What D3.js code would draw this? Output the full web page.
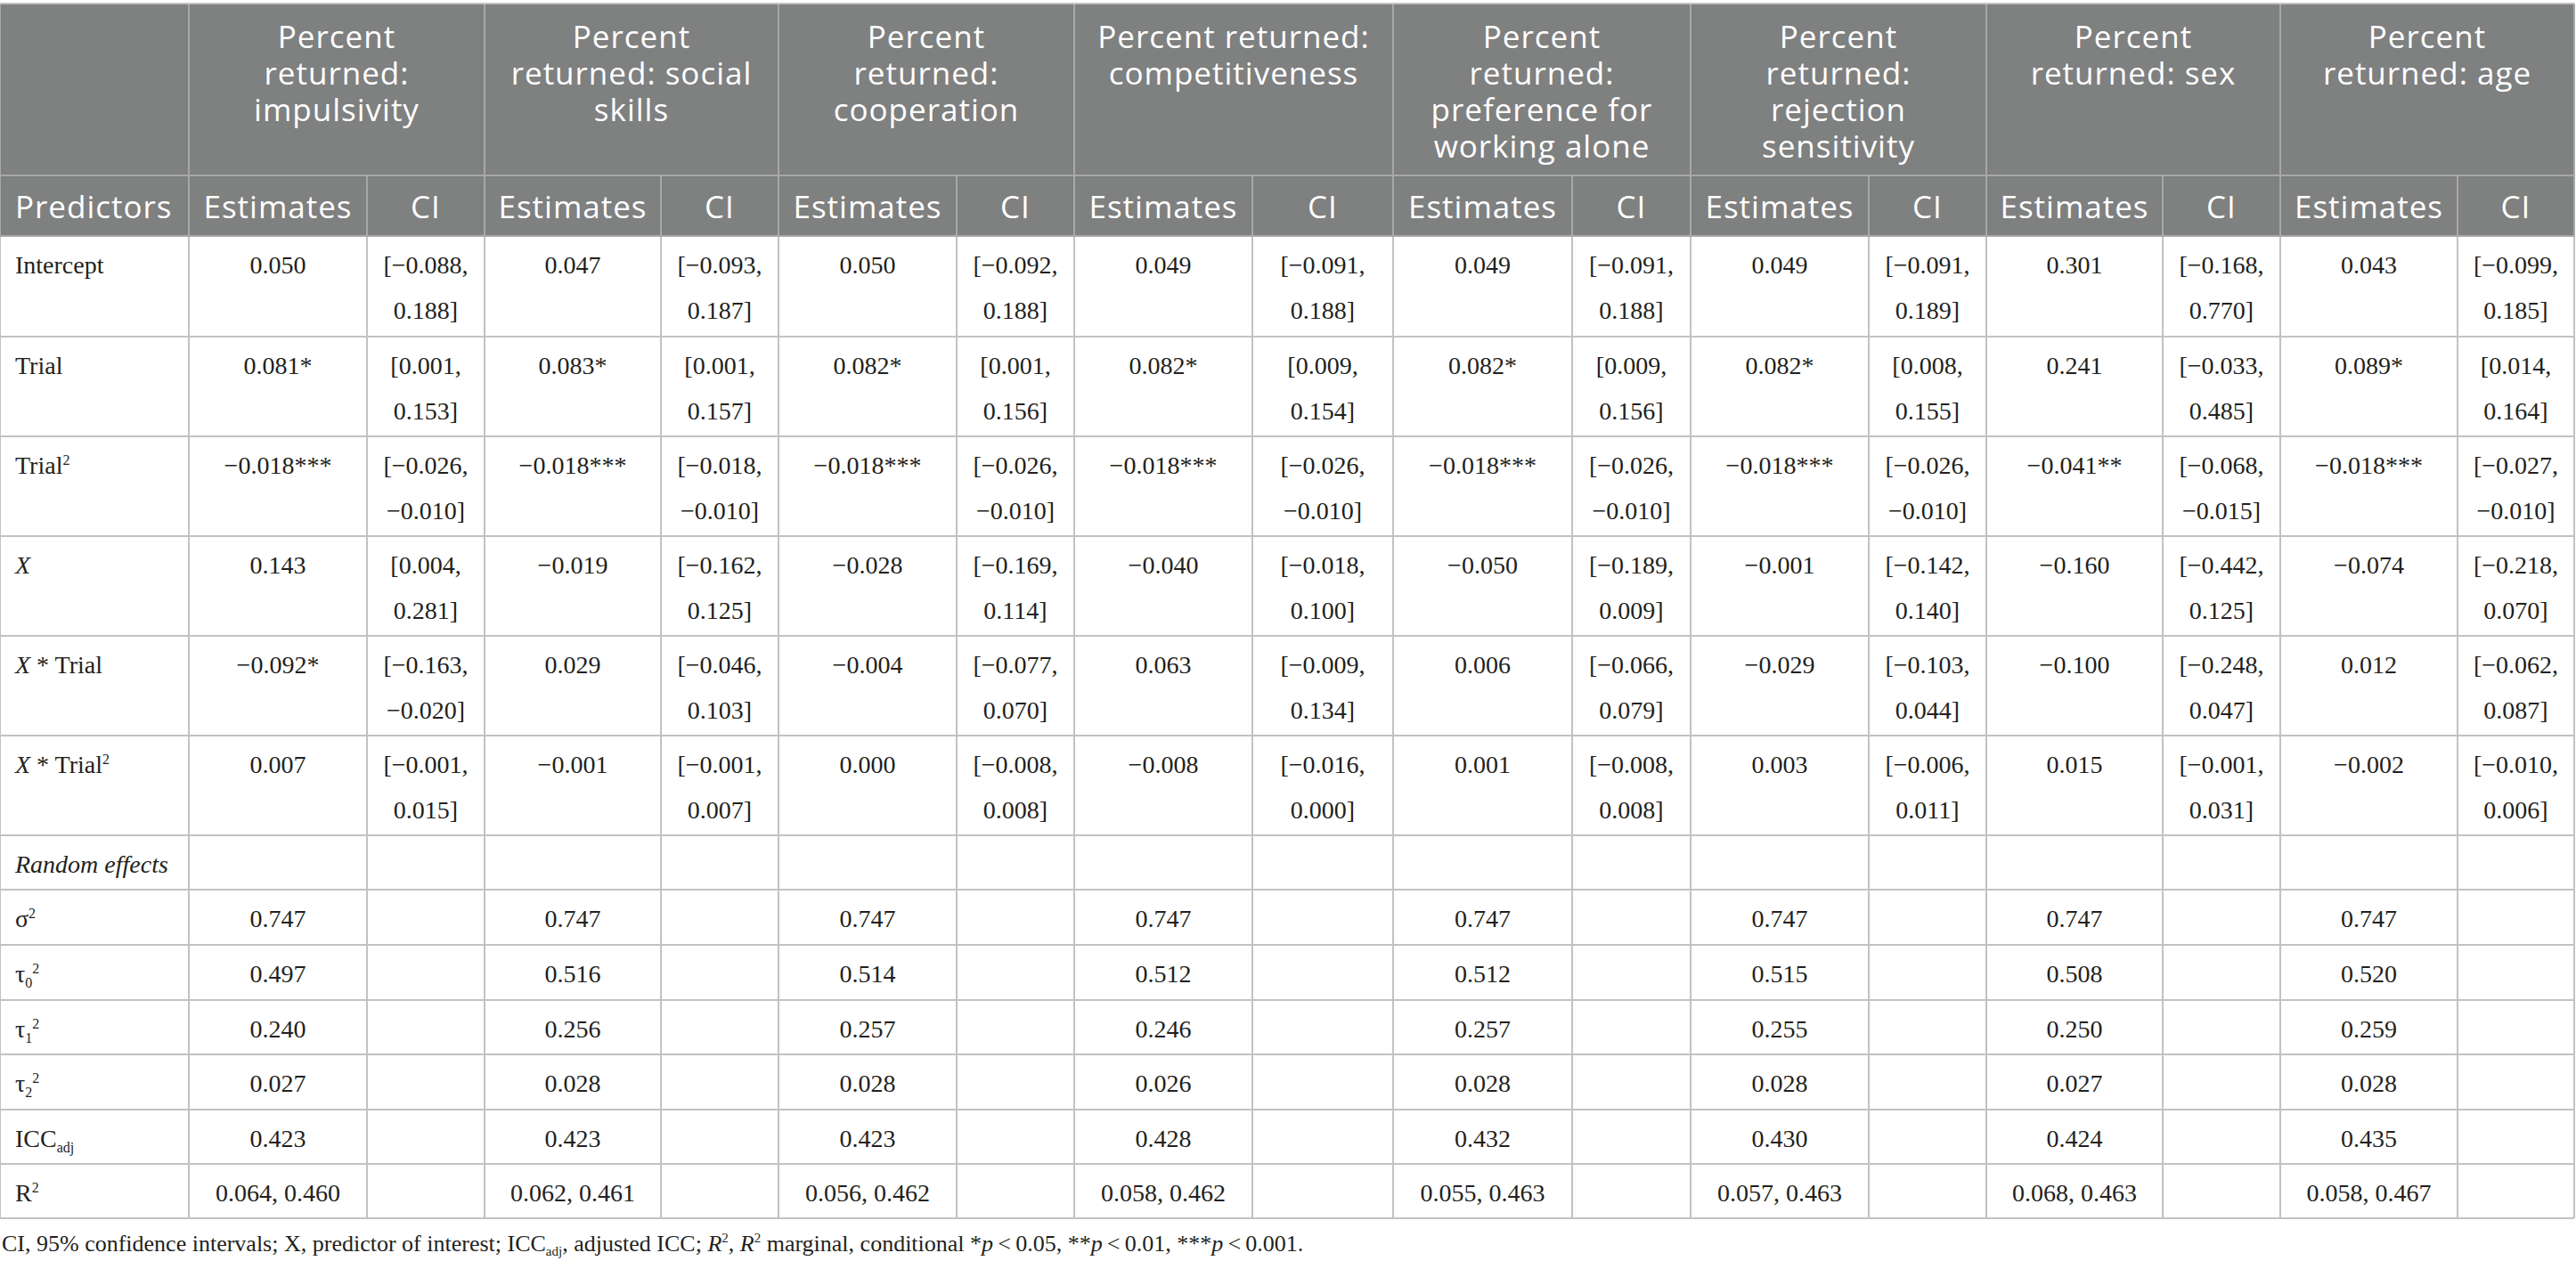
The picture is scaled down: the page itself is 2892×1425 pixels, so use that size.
<!DOCTYPE html>
<html lang="en">
<head>
<meta charset="UTF-8">
<title>Percent returned: mixed model estimates</title>
<script src="https://d3js.org/d3.v7.min.js"></script>
<style>
  body { margin: 0; background: #fff; }
  .head { font-family: "Open Sans", sans-serif; font-size: 35px; fill: #fff; letter-spacing: 1px; }
  .cell { font-family: "Liberation Serif", serif; font-size: 28px; fill: #231f20; }
  .note { font-family: "Liberation Serif", serif; font-size: 26px; fill: #231f20; }
</style>
</head>
<body>
<div id="table"></div>
<script>
// header text, one line per entry
const groupHeaders = [
  ["Percent", "returned:", "impulsivity"],
  ["Percent", "returned: social", "skills"],
  ["Percent", "returned:", "cooperation"],
  ["Percent returned:", "competitiveness"],
  ["Percent", "returned:", "preference for", "working alone"],
  ["Percent", "returned:", "rejection", "sensitivity"],
  ["Percent", "returned: sex"],
  ["Percent", "returned: age"]
];
const subHeaders = ["Estimates", "CI"];

// row labels as [text, style] segments
const predictors = [
  [["Intercept"]],
  [["Trial"]],
  [["Trial"], ["2", "sup"]],
  [["X", "i"]],
  [["X", "i"], [" * Trial"]],
  [["X", "i"], [" * Trial"], ["2", "sup"]],
  [["Random effects", "i"]],
  [["σ"], ["2", "sup"]],
  [["τ"], ["0", "sub"], ["2", "sup"]],
  [["τ"], ["1", "sub"], ["2", "sup"]],
  [["τ"], ["2", "sub"], ["2", "sup"]],
  [["ICC"], ["adj", "sub"]],
  [["R"], ["2", "sup"]]
];

const interceptEst = ["0.050", "0.047", "0.050", "0.049", "0.049", "0.049", "0.301", "0.043"];
const interceptCI = ["[−0.088, 0.188]", "[−0.093, 0.187]", "[−0.092, 0.188]", "[−0.091, 0.188]",
                     "[−0.091, 0.188]", "[−0.091, 0.189]", "[−0.168, 0.770]", "[−0.099, 0.185]"];
const trialEst = ["0.081*", "0.083*", "0.082*", "0.082*", "0.082*", "0.082*", "0.241", "0.089*"];
const trialCI = ["[0.001, 0.153]", "[0.001, 0.157]", "[0.001, 0.156]", "[0.009, 0.154]",
                 "[0.009, 0.156]", "[0.008, 0.155]", "[−0.033, 0.485]", "[0.014, 0.164]"];
const trial2Est = ["−0.018***", "−0.018***", "−0.018***", "−0.018***", "−0.018***", "−0.018***", "−0.041**", "−0.018***"];
const trial2CI = ["[−0.026, −0.010]", "[−0.018, −0.010]", "[−0.026, −0.010]", "[−0.026, −0.010]",
                  "[−0.026, −0.010]", "[−0.026, −0.010]", "[−0.068, −0.015]", "[−0.027, −0.010]"];
const xEst = ["0.143", "−0.019", "−0.028", "−0.040", "−0.050", "−0.001", "−0.160", "−0.074"];
const xCI = ["[0.004, 0.281]", "[−0.162, 0.125]", "[−0.169, 0.114]", "[−0.018, 0.100]",
             "[−0.189, 0.009]", "[−0.142, 0.140]", "[−0.442, 0.125]", "[−0.218, 0.070]"];
const xTrialEst = ["−0.092*", "0.029", "−0.004", "0.063", "0.006", "−0.029", "−0.100", "0.012"];
const xTrialCI = ["[−0.163, −0.020]", "[−0.046, 0.103]", "[−0.077, 0.070]", "[−0.009, 0.134]",
                  "[−0.066, 0.079]", "[−0.103, 0.044]", "[−0.248, 0.047]", "[−0.062, 0.087]"];
const xTrial2Est = ["0.007", "−0.001", "0.000", "−0.008", "0.001", "0.003", "0.015", "−0.002"];
const xTrial2CI = ["[−0.001, 0.015]", "[−0.001, 0.007]", "[−0.008, 0.008]", "[−0.016, 0.000]",
                   "[−0.008, 0.008]", "[−0.006, 0.011]", "[−0.001, 0.031]", "[−0.010, 0.006]"];
const sigma2 = ["0.747", "0.747", "0.747", "0.747", "0.747", "0.747", "0.747", "0.747"];
const tau0 = ["0.497", "0.516", "0.514", "0.512", "0.512", "0.515", "0.508", "0.520"];
const tau1 = ["0.240", "0.256", "0.257", "0.246", "0.257", "0.255", "0.250", "0.259"];
const tau2 = ["0.027", "0.028", "0.028", "0.026", "0.028", "0.028", "0.027", "0.028"];
const iccAdj = ["0.423", "0.423", "0.423", "0.428", "0.432", "0.430", "0.424", "0.435"];
const rSquared = ["0.064, 0.460", "0.062, 0.461", "0.056, 0.462", "0.058, 0.462",
                  "0.055, 0.463", "0.057, 0.463", "0.068, 0.463", "0.058, 0.467"];

const footnote = [
  ["CI, 95% confidence intervals; X, predictor of interest; ICC"], ["adj", "sub"],
  [", adjusted ICC; "], ["R", "i"], ["2", "sup"], [", "], ["R", "i"], ["2", "sup"],
  [" marginal, conditional *"], ["p", "i"], ["\u2009<\u20090.05, **"], ["p", "i"],
  ["\u2009<\u20090.01, ***"], ["p", "i"], ["\u2009<\u20090.001."]
];

const bodyRows = [
  [interceptEst, interceptCI], [trialEst, trialCI], [trial2Est, trial2CI],
  [xEst, xCI], [xTrialEst, xTrialCI], [xTrial2Est, xTrial2CI],
  [null, null], [sigma2, null], [tau0, null], [tau1, null], [tau2, null],
  [iccAdj, null], [rSquared, null]
].map((d, i) => ({ label: predictors[i], est: d[0], ci: d[1] }));

// layout
const width = 2892, height = 1425;
const colWidths = [212, 200, 132, 198, 132, 200, 132, 200, 158, 201, 133, 200, 132, 198, 132, 199, 131];
const rowHeights = [193, 68, 113, 112, 112, 112, 112, 112, 61, 62, 62, 61, 62, 61, 61];
const tableTop = 4, pad = 17, lineGap = 51, firstBase = 42;

const colEdges = [0, ...d3.cumsum(colWidths)];
const rowEdges = [tableTop, ...d3.cumsum(rowHeights).map(v => v + tableTop)];
const x = d3.scaleOrdinal().domain(d3.range(colEdges.length)).range(colEdges);
const y = d3.scaleOrdinal().domain(d3.range(rowEdges.length)).range(rowEdges);
const colMid = c => (x(c) + x(c + 1)) / 2;

const svg = d3.select("#table").append("svg")
  .attr("width", width).attr("height", height);

// rich text helper: segments of [text, style]
function richText(sel, segs, base) {
  let shift = 0;
  const small = Math.round(base * 0.58);
  segs.forEach(([t, s]) => {
    const target = s === "sup" ? -Math.round(base * 0.37) : s === "sub" ? Math.round(base * 0.2) : 0;
    const ts = sel.append("tspan").attr("dy", target - shift).text(t);
    if (s === "sup" || s === "sub") ts.style("font-size", small + "px");
    if (s === "i") ts.style("font-style", "italic");
    shift = target;
  });
}

// header background
svg.append("rect")
  .attr("x", x(0)).attr("y", y(0))
  .attr("width", x(colWidths.length) - x(0)).attr("height", y(2) - y(0))
  .attr("fill", "#7f8080");

// grid lines
const grid = svg.append("g").attr("stroke-width", 2);
const groupEdges = [0, 1, 3, 5, 7, 9, 11, 13, 15, 17];
grid.selectAll(".vh1").data(groupEdges).join("line")
  .attr("x1", c => x(c)).attr("x2", c => x(c))
  .attr("y1", y(0)).attr("y2", y(1)).attr("stroke", "#a8a8a8");
grid.selectAll(".vh2").data(d3.range(colEdges.length)).join("line")
  .attr("x1", c => x(c)).attr("x2", c => x(c))
  .attr("y1", y(1)).attr("y2", y(2)).attr("stroke", "#a8a8a8");
grid.selectAll(".vb").data(d3.range(colEdges.length)).join("line")
  .attr("x1", c => x(c)).attr("x2", c => x(c))
  .attr("y1", y(2)).attr("y2", y(rowEdges.length - 1)).attr("stroke", "#c2c2c2");
grid.selectAll(".h").data(d3.range(rowEdges.length)).join("line")
  .attr("x1", x(0)).attr("x2", x(colWidths.length))
  .attr("y1", r => y(r)).attr("y2", r => y(r))
  .attr("stroke", r => (r === 1 || r === 2) ? "#a8a8a8" : "#c2c2c2");

// header row 1
groupHeaders.forEach((lines, g) => {
  const t = svg.append("text").attr("class", "head").attr("text-anchor", "middle");
  lines.forEach((l, i) => {
    t.append("tspan").attr("x", (x(1 + g * 2) + x(3 + g * 2)) / 2)
      .attr("y", y(0) + 50 + i * 41).text(l);
  });
});

// header row 2
svg.append("text").attr("class", "head")
  .attr("x", pad).attr("y", y(1) + 48).text("Predictors");
groupHeaders.forEach((_, g) => {
  subHeaders.forEach((s, k) => {
    svg.append("text").attr("class", "head").attr("text-anchor", "middle")
      .attr("x", colMid(1 + g * 2 + k)).attr("y", y(1) + 48).text(s);
  });
});

// body
bodyRows.forEach((row, r) => {
  const ry = y(r + 2) + firstBase;
  const lab = svg.append("text").attr("class", "cell").attr("x", pad).attr("y", ry);
  richText(lab, row.label, 28);
  if (row.est) row.est.forEach((v, g) => {
    svg.append("text").attr("class", "cell").attr("text-anchor", "middle")
      .attr("x", colMid(1 + g * 2)).attr("y", ry).text(v);
  });
  if (row.ci) row.ci.forEach((v, g) => {
    const parts = v.split(", ");
    const t = svg.append("text").attr("class", "cell").attr("text-anchor", "middle");
    parts.forEach((p, i) => {
      t.append("tspan").attr("x", colMid(2 + g * 2)).attr("y", ry + i * lineGap)
        .text(i < parts.length - 1 ? p + "," : p);
    });
  });
});

// footnote
const note = svg.append("text").attr("class", "note").attr("x", 2).attr("y", 1405);
richText(note, footnote, 26);
</script>
</body>
</html>
